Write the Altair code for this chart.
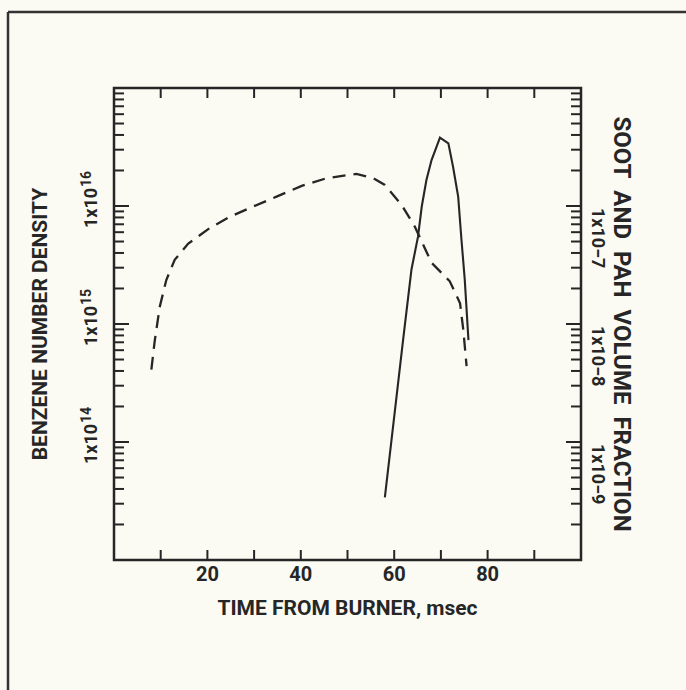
import altair as alt
import pandas as pd

# ---- data -------------------------------------------------------------
# Benzene number density (left axis), dashed curve
time_benzene = [8.0, 8.7, 9.8, 11.2, 13.0, 15.9, 20.5, 24.8, 29.8, 34.8,
                40.2, 45.5, 51.9, 55.5, 58.0, 61.6, 64.4, 68.0, 71.9, 74.1,
                74.8, 75.5]
benzene_density = [4.1e14, 7.1e14, 1.4e15, 2.36e15, 3.5e15, 4.8e15, 6.5e15,
                   8.1e15, 9.9e15, 1.2e16, 1.48e16, 1.72e16, 1.87e16, 1.72e16,
                   1.51e16, 1.02e16, 6.7e15, 3.3e15, 2.3e15, 1.5e15, 8.9e14,
                   4.4e14]

# Soot and PAH volume fraction (right axis), solid curve
time_soot = [58.0, 61.9, 63.7, 65.1, 65.9, 66.9, 68.0, 69.8, 71.6, 72.6,
             73.7, 74.4, 75.1, 75.9]
soot_fraction = [3.4e-10, 7.3e-9, 2.9e-8, 5.5e-8, 9.9e-8, 1.66e-7, 2.45e-7,
                 3.8e-7, 3.4e-7, 2.15e-7, 1.2e-7, 5.2e-8, 2.4e-8, 7.3e-9]

# axis ticks and labels
x_tick_values = [10, 20, 30, 40, 50, 60, 70, 80, 90]
x_label_values = [20, 40, 60, 80]
left_decades = [1e13, 1e14, 1e15, 1e16, 1e17]
right_decades = [1e-10, 1e-9, 1e-8, 1e-7, 1e-6]
minor_multipliers = [2, 3, 4, 5, 6, 7, 8, 9]
left_label_values = [1e14, 1e15, 1e16]
left_label_exponents = ["14", "15", "16"]
right_label_values = [1e-9, 1e-8, 1e-7]
right_label_texts = ["1x10\u22129", "1x10\u22128", "1x10\u22127"]

# ---- styling ----------------------------------------------------------
W, H = 467, 472
PAD_L, PAD_T = 114, 88
INK = "#262626"
PAPER = "#fbfbf3"
FONT = "Roboto, Liberation Sans, sans-serif"
GAP = "\u00a0 "  # wider word spacing of the right-hand title

x_scale = alt.Scale(domain=[0, 100], nice=False)
left_scale = alt.Scale(type="log", domain=[1e13, 1e17], nice=False)
right_scale = alt.Scale(type="log", domain=[1e-10, 1e-6], nice=False)

one = pd.DataFrame({"k": [0]})

benz_df = pd.DataFrame({"t": time_benzene, "n": benzene_density,
                        "i": range(len(time_benzene))})
soot_df = pd.DataFrame({"t": time_soot, "f": soot_fraction,
                        "i": range(len(time_soot))})

benzene = alt.Chart(benz_df).mark_line(
    color=INK, strokeWidth=2.3, strokeDash=[13, 8]
).encode(
    x=alt.X("t:Q", scale=x_scale, axis=None),
    y=alt.Y("n:Q", scale=left_scale, axis=None),
    order="i:Q",
)

soot = alt.Chart(soot_df).mark_line(color=INK, strokeWidth=2.1).encode(
    x=alt.X("t:Q", scale=x_scale, axis=None),
    y=alt.Y("f:Q", scale=right_scale, axis=None),
    order="i:Q",
)

# ---- inward tick marks ------------------------------------------------
xt = pd.DataFrame({"v": x_tick_values})
x_ticks_bottom = alt.Chart(xt).mark_rule(color=INK, strokeWidth=2).encode(
    x=alt.X("v:Q", scale=x_scale, axis=None),
    y=alt.value(H), y2=alt.value(H - 10),
)
x_ticks_top = alt.Chart(xt).mark_rule(color=INK, strokeWidth=2).encode(
    x=alt.X("v:Q", scale=x_scale, axis=None),
    y=alt.value(0), y2=alt.value(10),
)

left_minor = pd.DataFrame({"v": [m * d for d in left_decades[:-1] for m in minor_multipliers]})
right_minor = pd.DataFrame({"v": [m * d for d in right_decades[:-1] for m in minor_multipliers]})
left_major = pd.DataFrame({"v": left_decades[1:-1]})
right_major = pd.DataFrame({"v": right_decades[1:-1]})

left_ticks_minor = alt.Chart(left_minor).mark_rule(color=INK, strokeWidth=2).encode(
    y=alt.Y("v:Q", scale=left_scale, axis=None),
    x=alt.value(0), x2=alt.value(10),
)
left_ticks_major = alt.Chart(left_major).mark_rule(color=INK, strokeWidth=2).encode(
    y=alt.Y("v:Q", scale=left_scale, axis=None),
    x=alt.value(0), x2=alt.value(15),
)
right_ticks_minor = alt.Chart(right_minor).mark_rule(color=INK, strokeWidth=2).encode(
    y=alt.Y("v:Q", scale=right_scale, axis=None),
    x=alt.value(W), x2=alt.value(W - 10),
)
right_ticks_major = alt.Chart(right_major).mark_rule(color=INK, strokeWidth=2).encode(
    y=alt.Y("v:Q", scale=right_scale, axis=None),
    x=alt.value(W), x2=alt.value(W - 15),
)

# ---- tick labels ------------------------------------------------------
txt = dict(font=FONT, fontWeight="bold", color=INK)

x_labels = alt.Chart(pd.DataFrame({"v": x_label_values})).mark_text(
    fontSize=20, baseline="middle", align="center", **txt
).encode(
    x=alt.X("v:Q", scale=x_scale, axis=None),
    y=alt.value(H + 15),
    text=alt.Text("v:Q", format="d"),
)

left_lab_df = pd.DataFrame({"v": left_label_values, "e": left_label_exponents})
left_base = alt.Chart(left_lab_df).mark_text(
    fontSize=18, angle=270, align="center", baseline="middle", dx=-2, **txt
).encode(
    y=alt.Y("v:Q", scale=left_scale, axis=None),
    x=alt.value(-22),
    text=alt.value("1x10"),
)
left_exp = alt.Chart(left_lab_df).mark_text(
    fontSize=14, angle=270, align="left", baseline="middle", dx=19, dy=-5, **txt
).encode(
    y=alt.Y("v:Q", scale=left_scale, axis=None),
    x=alt.value(-22),
    text="e:N",
)

right_lab_df = pd.DataFrame({"v": right_label_values, "s": right_label_texts})
right_labels = alt.Chart(right_lab_df).mark_text(
    fontSize=18, angle=90, align="left", baseline="middle", dx=2, **txt
).encode(
    y=alt.Y("v:Q", scale=right_scale, axis=None),
    x=alt.value(483),
    text="s:N",
)

# ---- axis titles ------------------------------------------------------
x_title = alt.Chart(one).mark_text(
    text="TIME FROM BURNER, msec", fontSize=21, align="center", baseline="middle", **txt
).encode(x=alt.value(W / 2), y=alt.value(521))

left_title = alt.Chart(one).mark_text(
    text="BENZENE NUMBER DENSITY", fontSize=21, angle=270, align="center",
    baseline="middle", **txt
).encode(x=alt.value(-73), y=alt.value(H / 2))

right_title = alt.Chart(one).mark_text(
    text=GAP.join(["SOOT", "AND", "PAH", "VOLUME", "FRACTION"]),
    fontSize=24, angle=90, align="center", baseline="middle", **txt
).encode(x=alt.value(507), y=alt.value(H / 2))

# ---- page frame -------------------------------------------------------
frame_top = alt.Chart(one).mark_rule(color="#333333", strokeWidth=2.5).encode(
    x=alt.value(-106), x2=alt.value(686 - PAD_L), y=alt.value(12 - PAD_T)
)
frame_left = alt.Chart(one).mark_rule(color="#333333", strokeWidth=2.5).encode(
    x=alt.value(-106), y=alt.value(12 - PAD_T), y2=alt.value(690 - PAD_T)
)

chart = alt.layer(
    frame_top, frame_left,
    x_ticks_bottom, x_ticks_top,
    left_ticks_minor, left_ticks_major,
    right_ticks_minor, right_ticks_major,
    benzene, soot,
    x_labels, left_base, left_exp, right_labels,
    x_title, left_title, right_title,
).resolve_scale(
    y="independent"
).properties(
    width=W, height=H,
    autosize=alt.AutoSizeParams(type="none"),
    padding={"left": PAD_L, "top": PAD_T, "right": 686 - PAD_L - W, "bottom": 690 - PAD_T - H},
).configure(
    background=PAPER
).configure_view(
    stroke=INK, strokeWidth=2.5
)

chart.save("out.html", embed_options={"renderer": "svg", "actions": False})
